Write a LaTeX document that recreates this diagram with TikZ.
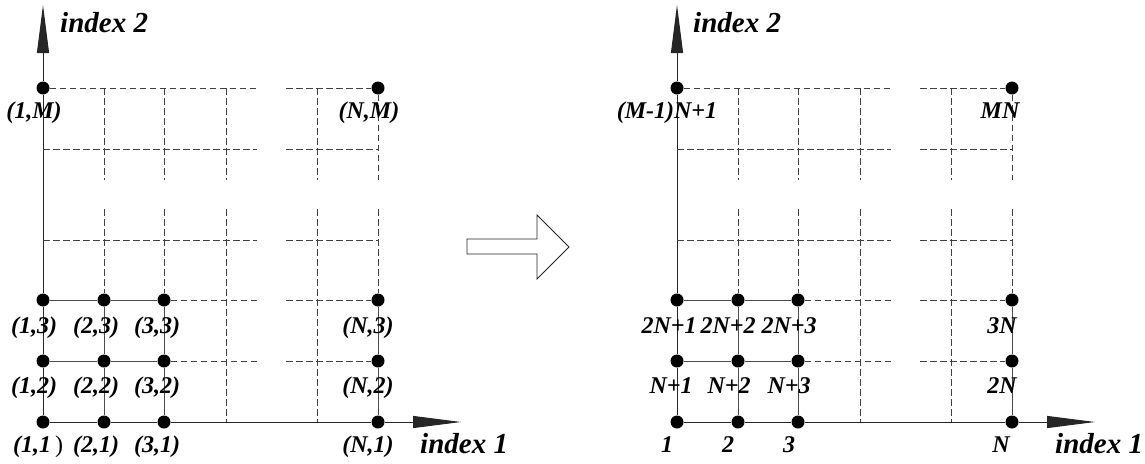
\documentclass[tikz,border=0pt]{standalone}
\usepackage{fontspec}
\setmainfont{Liberation Serif}
\usetikzlibrary{arrows.meta}
\tikzset{
  x=1pt, y=-1pt,
  dot/.style={circle,fill=black,inner sep=0pt,minimum size=13pt},
  lab/.style={font=\fontsize{24}{24}\selectfont\bfseries\itshape,anchor=base,inner sep=0pt},
  labw/.style={font=\fontsize{24}{24}\selectfont\bfseries\itshape,anchor=base west,inner sep=0pt},
  axlab/.style={font=\fontsize{29}{29}\selectfont\bfseries\itshape,anchor=base west,inner sep=0pt},
  axisline/.style={line width=1pt,black!85},
  axisarrow/.style={line width=1pt,black!85,-{Triangle[length=48pt,width=12pt]}},
  solidline/.style={line width=1pt,black!70},
  dashline/.style={line width=0.9pt,black!75,dash pattern=on 6.5pt off 3.5pt},
  hollow/.style={line width=0.8pt,black!85,fill=white},
}
\newcommand\gridpart[2]{%
  \begin{scope}[xshift=#2pt]
    \foreach \xx [count=\i] in {0,61,121,183,274,335}{
      \foreach \yy [count=\j] in {422,361,300,240,149,88}{
        \coordinate (#1c\i\j) at (\xx,\yy);
      }
    }
    \foreach \j in {1,...,6}{
      \path (#1c1\j) ++(214,0) coordinate (#1ha\j) ++(29,0) coordinate (#1hb\j);
    }
    \foreach \i in {1,...,6}{
      \path (#1c\i1) ++(0,-213) coordinate (#1vb\i) ++(0,-29) coordinate (#1va\i);
    }
    \coordinate (#1xtip) at (418,422);
    \coordinate (#1ytip) at (0,5);
    \foreach \p in {11,21,31,61,12,22,32,62,13,23,33,63,16,66}{
      \node[dot] (#1d\p) at (#1c\p) {};
    }
    % axes
    \draw[axisline] (#1d11) -- (#1d21);
    \draw[axisline] (#1d21) -- (#1d31);
    \draw[axisline] (#1d31) -- (#1d61);
    \draw[axisarrow] (#1d61) -- (#1xtip);
    \draw[axisline] (#1d11) -- (#1d12);
    \draw[axisline] (#1d12) -- (#1d13);
    \draw[axisline] (#1d13) -- (#1d16);
    \draw[axisarrow] (#1d16) -- (#1ytip);
    % solid grid
    \draw[solidline] (#1d12) -- (#1d22);
    \draw[solidline] (#1d22) -- (#1d32);
    \draw[solidline] (#1d13) -- (#1d23);
    \draw[solidline] (#1d23) -- (#1d33);
    \draw[solidline] (#1d21) -- (#1d22);
    \draw[solidline] (#1d22) -- (#1d23);
    \draw[solidline] (#1d31) -- (#1d32);
    \draw[solidline] (#1d32) -- (#1d33);
    \draw[solidline] (#1d61) -- (#1d62);
    \draw[solidline] (#1d62) -- (#1d63);
    % dashed verticals
    \draw[dashline] (#1c26) -- (#1va2);
    \draw[dashline] (#1vb2) -- (#1d23);
    \draw[dashline] (#1c36) -- (#1va3);
    \draw[dashline] (#1vb3) -- (#1d33);
    \draw[dashline] (#1d66) -- (#1va6);
    \draw[dashline] (#1vb6) -- (#1d63);
    \draw[dashline] (#1c46) -- (#1va4);
    \draw[dashline] (#1vb4) -- (#1c41);
    \draw[dashline] (#1c56) -- (#1va5);
    \draw[dashline] (#1vb5) -- (#1c51);
    % dashed horizontals
    \draw[dashline] (#1d16) -- (#1ha6);
    \draw[dashline] (#1hb6) -- (#1d66);
    \draw[dashline] (#1c15) -- (#1ha5);
    \draw[dashline] (#1hb5) -- (#1c65);
    \draw[dashline] (#1c14) -- (#1ha4);
    \draw[dashline] (#1hb4) -- (#1c64);
    \draw[dashline] (#1d33) -- (#1ha3);
    \draw[dashline] (#1hb3) -- (#1d63);
    \draw[dashline] (#1d32) -- (#1ha2);
    \draw[dashline] (#1hb2) -- (#1d62);
  \end{scope}}
\begin{document}
\begin{tikzpicture}
  \useasboundingbox (0,0) rectangle (1145,463);
  \gridpart{L}{43}
  \gridpart{R}{677}
  % left labels
  \node[axlab] (Lidx2) at (60,32) {index 2};
  \node[axlab] (Lidx1) at (420,453) {index 1};
  \node[lab] (LlM1) at (34,118) {(1,M)};
  \node[lab] (LlMN) at (369,118) {(N,M)};
  \node[lab] (Ll13) at (34,333) {(1,3)};
  \node[lab] (Ll23) at (96,333) {(2,3)};
  \node[lab] (Ll33) at (157,333) {(3,3)};
  \node[lab] (Ll63) at (368,333) {(N,3)};
  \node[lab] (Ll12) at (34,393) {(1,2)};
  \node[lab] (Ll22) at (96,393) {(2,2)};
  \node[lab] (Ll32) at (157,393) {(3,2)};
  \node[lab] (Ll62) at (368,393) {(N,2)};
  \node[labw] (Ll11) at (13,452) {(1,1\kern4pt{\mdseries\upshape )}};
  \node[lab] (Ll21) at (96,452) {(2,1)};
  \node[lab] (Ll31) at (157,452) {(3,1)};
  \node[lab] (Ll61) at (368,452) {(N,1)};
  % right labels
  \node[axlab] (Ridx2) at (693,32) {index 2};
  \node[axlab] (Ridx1) at (1055,453) {index 1};
  \node[lab] (RlM1) at (667,118) {(M-1)N+1};
  \node[lab] (RlMN) at (1000,118) {MN};
  \node[lab] (Rl13) at (669,333) {2N+1};
  \node[lab] (Rl23) at (728,333) {2N+2};
  \node[lab] (Rl33) at (789,333) {2N+3};
  \node[lab] (Rl63) at (1002,333) {3N};
  \node[lab] (Rl12) at (671,393) {N+1};
  \node[lab] (Rl22) at (729,393) {N+2};
  \node[lab] (Rl32) at (789,393) {N+3};
  \node[lab] (Rl62) at (1002,393) {2N};
  \node[lab] (Rl11) at (667,452) {1};
  \node[lab] (Rl21) at (728,452) {2};
  \node[lab] (Rl31) at (789,452) {3};
  \node[lab] (Rl61) at (1001,452) {N};
  % hollow arrow
  \draw[hollow] (467,239) -- (537,239) -- (537,215) -- (569,247) -- (537,279) -- (537,254) -- (467,254) -- cycle;
\end{tikzpicture}
\end{document}
